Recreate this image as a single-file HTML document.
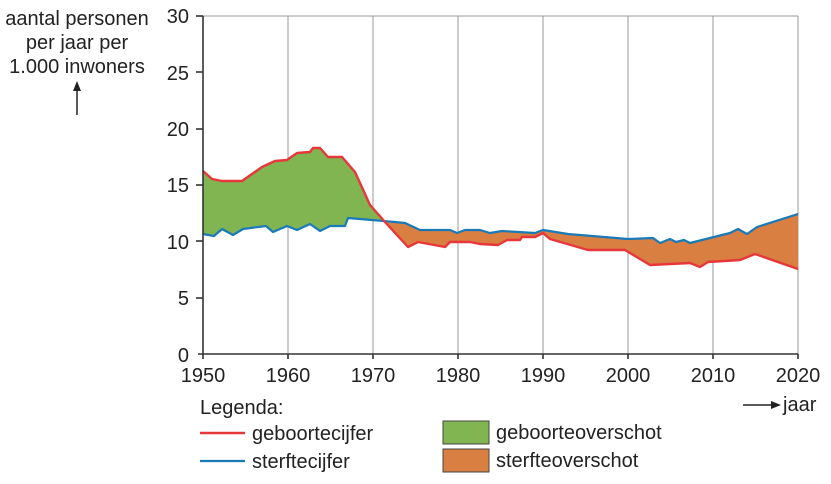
<!DOCTYPE html>
<html><head><meta charset="utf-8"><style>
html,body{margin:0;padding:0;background:#fff;}
svg{display:block;}
text{font-family:"Liberation Sans",Arial,sans-serif;font-size:20px;fill:#222;}
</style></head><body>
<svg width="831" height="484" viewBox="0 0 831 484" xmlns="http://www.w3.org/2000/svg">
<g stroke="#999" stroke-width="1">
<line x1="288" y1="16" x2="288" y2="354"/><line x1="373" y1="16" x2="373" y2="354"/>
<line x1="458" y1="16" x2="458" y2="354"/><line x1="543" y1="16" x2="543" y2="354"/>
<line x1="628" y1="16" x2="628" y2="354"/><line x1="713" y1="16" x2="713" y2="354"/>
<line x1="798" y1="16" x2="798" y2="354"/>
<line x1="203" y1="16" x2="798" y2="16"/>
</g>
<polygon fill="#81b552" points="203,171 212,179 222,181 242,181 262,167 275,161 287,160 297,153 310,152 313,148 320,148 328,157 342,157 355,172 370,205 384,220 348,218 345,226 330,226 320,231 310,224 297,230 287,226 273,232 266,226 243,229 233,235 222,229 214,236 203,234"/>
<polygon fill="#d97f42" points="384,220 385,222 408,247 418,242 445,247 450,242 470,242 480,244 498,245 507,240 520,240 522,237 535,237 543,233 550,239 588,250 625,250 650,265 690,263 700,267 708,262 740,260 755,254 798,269 798,214 757,227 747,234 738,229 730,233 690,243 684,240 676,242 670,239 660,243 653,238 628,239 568,234 543,230 535,233 502,231 490,233 480,230 465,230 457,233 450,230 420,230 405,223 395,222"/>
<polyline fill="none" stroke="#1a7ab8" stroke-width="2.2" stroke-linejoin="round" points="203,234 214,236 222,229 233,235 243,229 266,226 273,232 287,226 297,230 310,224 320,231 330,226 345,226 348,218 395,222 405,223 420,230 450,230 457,233 465,230 480,230 490,233 502,231 535,233 543,230 568,234 628,239 653,238 660,243 670,239 676,242 684,240 690,243 730,233 738,229 747,234 757,227 798,214"/>
<polyline fill="none" stroke="#e8373a" stroke-width="2.4" stroke-linejoin="round" points="203,171 212,179 222,181 242,181 262,167 275,161 287,160 297,153 310,152 313,148 320,148 328,157 342,157 355,172 370,205 385,222 408,247 418,242 445,247 450,242 470,242 480,244 498,245 507,240 520,240 522,237 535,237 543,233 550,239 588,250 625,250 650,265 690,263 700,267 708,262 740,260 755,254 798,269"/>
<g stroke="#333" stroke-width="1.6">
<line x1="203" y1="16" x2="203" y2="359"/>
<line x1="198" y1="354" x2="798" y2="354"/>
<line x1="196" y1="16" x2="203" y2="16"/><line x1="196" y1="72" x2="203" y2="72"/>
<line x1="196" y1="129" x2="203" y2="129"/><line x1="196" y1="185" x2="203" y2="185"/>
<line x1="196" y1="241" x2="203" y2="241"/><line x1="196" y1="298" x2="203" y2="298"/>
<line x1="288" y1="354" x2="288" y2="359"/><line x1="373" y1="354" x2="373" y2="359"/>
<line x1="458" y1="354" x2="458" y2="359"/><line x1="543" y1="354" x2="543" y2="359"/>
<line x1="628" y1="354" x2="628" y2="359"/><line x1="713" y1="354" x2="713" y2="359"/>
<line x1="798" y1="354" x2="798" y2="359"/>
</g>
<g text-anchor="end">
<text x="189" y="23">30</text><text x="189" y="80">25</text><text x="189" y="136">20</text>
<text x="189" y="192">15</text><text x="189" y="249">10</text><text x="189" y="305">5</text>
<text x="189" y="362">0</text>
</g>
<g text-anchor="middle">
<text x="203" y="382">1950</text><text x="288" y="382">1960</text><text x="373" y="382">1970</text>
<text x="458" y="382">1980</text><text x="543" y="382">1990</text><text x="628" y="382">2000</text>
<text x="713" y="382">2010</text><text x="798" y="382">2020</text>
<text x="77" y="25">aantal personen</text>
<text x="77" y="49">per jaar per</text>
<text x="77" y="73">1.000 inwoners</text>
</g>
<line x1="77" y1="115" x2="77" y2="90" stroke="#222" stroke-width="1.5"/>
<polygon points="73,91 81,91 77,81" fill="#222"/>
<line x1="743" y1="405" x2="773" y2="405" stroke="#222" stroke-width="1.5"/>
<polygon points="771,401 771,409 781,405" fill="#222"/>
<text x="783" y="411">jaar</text>
<text x="200" y="414">Legenda:</text>
<line x1="200" y1="433" x2="245" y2="433" stroke="#e8373a" stroke-width="2.4"/>
<text x="252" y="440">geboortecijfer</text>
<line x1="200" y1="461" x2="245" y2="461" stroke="#1a7ab8" stroke-width="2.2"/>
<text x="252" y="468">sterftecijfer</text>
<rect x="443" y="421" width="46" height="23" fill="#81b552" stroke="#444" stroke-width="1"/>
<text x="496" y="439">geboorteoverschot</text>
<rect x="443" y="449" width="46" height="23" fill="#d97f42" stroke="#444" stroke-width="1"/>
<text x="496" y="467">sterfteoverschot</text>
</svg>
</body></html>
